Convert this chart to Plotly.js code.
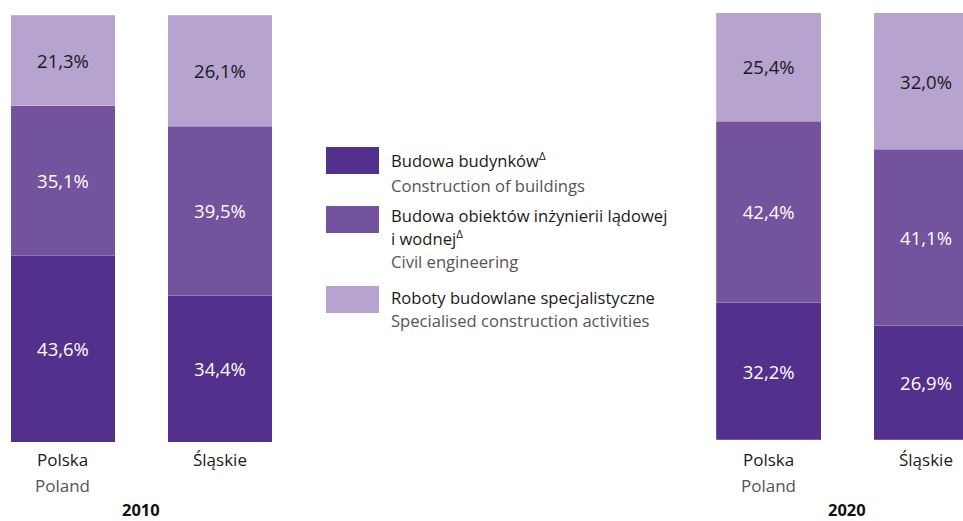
<!DOCTYPE html>
<html>
<head>
<meta charset="utf-8">
<script src="https://cdn.plot.ly/plotly-3.0.1.min.js"></script>
<style>
  html, body { margin: 0; padding: 0; background: #fff; }
  #chart { width: 963px; height: 521px; }
</style>
</head>
<body>
<div id="chart"></div>
<script>
// categories and values (shares in %)
const regions = ["Polska", "Śląskie"];
const regionsEn = ["Poland", ""];
const years = ["2010", "2020"];

const buildings2010 = [43.6, 34.4];
const civil2010 = [35.1, 39.5];
const specialised2010 = [21.3, 26.1];

const buildings2020 = [32.2, 26.9];
const civil2020 = [42.4, 41.1];
const specialised2020 = [25.4, 32.0];

const seriesPl = [
  ["Budowa budynków<sup>Δ</sup>"],
  ["Budowa obiektów inżynierii lądowej", "i wodnej<sup>Δ</sup>"],
  ["Roboty budowlane specjalistyczne"],
];
const seriesEn = [
  "Construction of buildings",
  "Civil engineering",
  "Specialised construction activities",
];

const colors = ["#52308c", "#73529e", "#b6a3cf"];
const textColors = ["#ffffff", "#ffffff", "#1a1a1a"];
const FONT = "'Open Sans', sans-serif";
const H = 521;
const W = 963;

function bar(x, y, i, xa, ya) {
  return {
    type: "bar",
    x: x,
    y: y,
    xaxis: xa,
    yaxis: ya,
    width: 0.666,
    marker: { color: colors[i], line: { color: "rgba(255,255,255,0.35)", width: 0.6 } },
    texttemplate: "%{y:.1f}%",
    textposition: "inside",
    insidetextanchor: "middle",
    textangle: 0,
    textfont: { family: FONT, size: 18.5, color: textColors[i] },
    hoverinfo: "none",
    showlegend: false,
  };
}

const data = [
  bar(regions, buildings2010, 0, "x", "y"),
  bar(regions, civil2010, 1, "x", "y"),
  bar(regions, specialised2010, 2, "x", "y"),
  bar(regions, buildings2020, 0, "x2", "y2"),
  bar(regions, civil2020, 1, "x2", "y2"),
  bar(regions, specialised2020, 2, "x2", "y2"),
];

const py = (px) => 1 - px / H;
const annotations = [];
const shapes = [];

// category labels under bars
["x", "x2"].forEach((xa) => {
  regions.forEach((r, i) => {
    annotations.push({
      xref: xa, yref: "paper", x: r, y: py(459), text: r,
      showarrow: false, xanchor: "center", yanchor: "middle",
      font: { family: FONT, size: 17, color: "#1a1a1a" },
    });
    if (regionsEn[i]) {
      annotations.push({
        xref: xa, yref: "paper", x: r, y: py(485), text: regionsEn[i],
        showarrow: false, xanchor: "center", yanchor: "middle",
        font: { family: FONT, size: 17, color: "#555555" },
      });
    }
  });
});

// year labels
years.forEach((yr, i) => {
  annotations.push({
    xref: i === 0 ? "x" : "x2", yref: "paper", x: 0.5, y: py(509.5), text: "<b>" + yr + "</b>",
    showarrow: false, xanchor: "center", yanchor: "middle",
    font: { family: FONT, size: 16.5, color: "#111111" },
  });
});

// legend built from swatches and text
const swatchTop = [147, 206, 286];
const plY = [160, 216, 297];
const enY = [185, 261, 320];
seriesPl.forEach((lines, i) => {
  shapes.push({
    type: "rect", xref: "paper", yref: "paper",
    x0: 326 / W, x1: 379 / W, y0: py(swatchTop[i]), y1: py(swatchTop[i] + 27),
    fillcolor: colors[i], line: { width: 0 },
  });
  lines.forEach((line, j) => {
    annotations.push({
      xref: "paper", yref: "paper", x: 389 / W, y: py(plY[i] + j * 22.5), text: line,
      showarrow: false, xanchor: "left", yanchor: "middle", align: "left",
      font: { family: FONT, size: 16.6, color: "#1a1a1a" },
    });
  });
  annotations.push({
    xref: "paper", yref: "paper", x: 389 / W, y: py(enY[i]), text: seriesEn[i],
    showarrow: false, xanchor: "left", yanchor: "middle", align: "left",
    font: { family: FONT, size: 16.6, color: "#555555" },
  });
});

const hiddenAxis = { showgrid: false, zeroline: false, showline: false, showticklabels: false, ticks: "" };

const layout = {
  width: W,
  height: H,
  margin: { l: 0, r: 0, t: 0, b: 0 },
  paper_bgcolor: "#ffffff",
  plot_bgcolor: "rgba(0,0,0,0)",
  barmode: "stack",
  separators: ", ",
  font: { family: FONT },
  xaxis: Object.assign({}, hiddenAxis, { type: "category", domain: [0, 298.5 / W], range: [-0.401, 1.5], anchor: "y" }),
  yaxis: Object.assign({}, hiddenAxis, { domain: [py(442), py(15)], range: [0, 100], anchor: "x" }),
  xaxis2: Object.assign({}, hiddenAxis, { type: "category", domain: [690 / W, 1], range: [-0.5, 1.235], anchor: "y2" }),
  yaxis2: Object.assign({}, hiddenAxis, { domain: [py(440), py(12.7)], range: [0, 100], anchor: "x2" }),
  annotations: annotations,
  shapes: shapes,
};

Plotly.newPlot("chart", data, layout, { displayModeBar: false, staticPlot: true });
</script>
</body>
</html>
